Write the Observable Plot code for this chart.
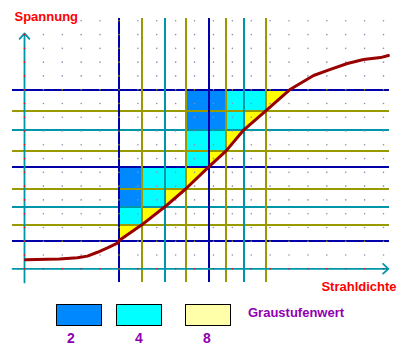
<!DOCTYPE html>
<html><head><meta charset="utf-8">
<script src="https://cdn.jsdelivr.net/npm/d3@7"></script>
<script src="https://cdn.jsdelivr.net/npm/@observablehq/plot@0.6"></script>
<style>
body{margin:0;background:#fff;width:412px;height:353px;overflow:hidden;font-family:"Liberation Sans",Arial,sans-serif;}
#legend{position:relative;width:412px;height:57px;}
.sw{position:absolute;top:8px;width:46px;height:22px;border:1px solid #000;box-sizing:border-box;}
.lab{position:absolute;font:bold 13px "Liberation Sans",Arial,sans-serif;color:#9000b0;line-height:14px;white-space:nowrap;}
.num{font-size:14px;}
</style></head><body>
<div id="chart"></div><div id="legend"></div>
<script>
// ---- data (grid units: x = Strahldichte, y = Spannung) ----
const colEdges   = [4.99, 6.21, 7.43, 8.54, 9.75, 10.67, 11.61, 12.77, 14.03]; // where the curve crosses each level
const levelLines = [2.03, 3.19, 4.50, 5.81, 7.40, 8.56, 10.09, 11.47, 12.99];  // quantisation levels (Spannung)
const levelDepth = [2, 8, 4, 8, 2, 8, 4, 8, 2];   // grey-level set each horizontal line belongs to
const vLineDepth = [2, 8, 4, 8, 2, 8, 4, 8];      // same for vertical lines (colEdges[0..7])

const cellCol   = [0, 0, 1, 0, 1, 2, 3, 3, 4, 3, 4, 5, 3, 4, 5, 6];
const cellRow   = [1, 2, 2, 3, 3, 3, 4, 5, 5, 6, 6, 6, 7, 7, 7, 7];
const cellLevel = [4, 2, 4, 2, 4, 4, 4, 4, 4, 2, 2, 4, 2, 2, 4, 4];
const triIndex  = [0, 1, 2, 3, 4, 5, 6, 7];

const curveX = [0.05, 1.85, 2.80, 3.33, 3.86, 4.39, 4.92, 4.99, 6.21, 7.43, 8.54, 9.75, 10.67, 11.61, 12.77, 14.03, 15.30, 16.19, 17.09, 17.94, 18.84, 19.26];
const curveY = [0.65, 0.71, 0.80, 0.92, 1.20, 1.52, 1.86, 2.03, 3.19, 4.50, 5.81, 7.40, 8.56, 10.09, 11.47, 12.99, 14.03, 14.47, 14.90, 15.19, 15.33, 15.48];

const dotCols = d3.range(0, 20);
const dotRows = d3.range(0, 19);

const legendLevels = [2, 4, 8];
const legendLabel = "Graustufenwert";
const yLabel = "Spannung";
const xLabel = "Strahldichte";

// ---- styles ----
const depthColor = {2: "#0000aa", 4: "#0096aa", 8: "#999900"};
const cellColor = {2: "#0088ff", 4: "#00ffff", 8: "#ffff00"};
const legendColor = {2: "#0088ff", 4: "#00ffff", 8: "#ffffaa"};
const axisColor = "#0096aa";

// ---- derived tables ----
const cells = cellCol.map((c, i) => ({c, r: cellRow[i], level: cellLevel[i]}));
const tris = triIndex.flatMap(i => [
  {i, x: colEdges[i],     y1: levelLines[i],     y2: levelLines[i + 1]},
  {i, x: colEdges[i + 1], y1: levelLines[i + 1], y2: levelLines[i + 1]}
]);
const hLines = levelLines.map((y, i) => ({y, depth: levelDepth[i]}));
const vLines = vLineDepth.map((depth, i) => ({x: colEdges[i], depth}));
const curve = curveX.map((x, i) => ({x, y: curveY[i]}));
const dots = dotRows.flatMap(r => dotCols.map(c => ({c, r})));
const dotColor = d => (d.c === 0 || d.r === 0) ? "#ff0000"
  : (d.r === 2 || d.r === 13 || d.c === 5) ? "#a0a000" : "#8c8cb4";

const chart = Plot.plot({
  width: 412, height: 296, margin: 0,
  x: {domain: [0, 19], range: [24, 383], axis: null},
  y: {domain: [0, 18], range: [268.3, 20.3], axis: null},
  color: {type: "identity"},
  style: {background: "#fff", overflow: "visible"},
  marks: [
    Plot.rect(cells, {
      x1: d => colEdges[d.c], x2: d => colEdges[d.c + 1],
      y1: d => levelLines[d.r], y2: d => levelLines[d.r + 1],
      fill: d => cellColor[d.level], shapeRendering: "crispEdges"
    }),
    Plot.areaY(tris, {x: "x", y1: "y1", y2: "y2", z: "i", fill: cellColor[8]}),
    Plot.ruleY(hLines, {y: "y", x1: -0.635, x2: 19.32, stroke: d => depthColor[d.depth], strokeWidth: 2, shapeRendering: "crispEdges"}),
    Plot.ruleX(vLines, {x: "x", y1: -0.99, y2: 18.16, stroke: d => depthColor[d.depth], strokeWidth: 2, shapeRendering: "crispEdges"}),
    Plot.arrow([{x1: 0, y1: -0.99, x2: 0, y2: 17.08}], {x1: "x1", y1: "y1", x2: "x2", y2: "y2", stroke: axisColor, strokeWidth: 1.8, headLength: 6, headAngle: 85}),
    Plot.arrow([{x1: -0.635, y1: 0, x2: 19.26, y2: 0}], {x1: "x1", y1: "y1", x2: "x2", y2: "y2", stroke: axisColor, strokeWidth: 1.8, headLength: 6, headAngle: 85}),
    Plot.dot(dots, {x: "c", y: "r", r: 0.8, fill: dotColor, stroke: null}),
    Plot.line(curve, {x: "x", y: "y", stroke: "#990000", strokeWidth: 3}),
    Plot.text([yLabel], {x: -0.53, y: 18.27, text: d => d, textAnchor: "start", fill: "#ff0000", fontSize: 13, fontWeight: "bold", fontFamily: "Liberation Sans, Arial, sans-serif"}),
    Plot.text([xLabel], {x: 19.69, y: -1.28, text: d => d, textAnchor: "end", fill: "#ff0000", fontSize: 13, fontWeight: "bold", fontFamily: "Liberation Sans, Arial, sans-serif"})
  ]
});
document.getElementById("chart").appendChild(chart);

// ---- legend ----
const legend = document.getElementById("legend");
const swLeft = [56, 116, 185];
const labLeft = [67, 135, 203];
legendLevels.forEach((lv, i) => {
  const sw = document.createElement("div");
  sw.className = "sw";
  sw.style.left = swLeft[i] + "px";
  sw.style.background = legendColor[lv];
  legend.appendChild(sw);
  const lab = document.createElement("div");
  lab.className = "lab num";
  lab.style.left = labLeft[i] + "px";
  lab.style.top = "35px";
  lab.textContent = lv;
  legend.appendChild(lab);
});
const gl = document.createElement("div");
gl.className = "lab";
gl.style.left = "248px";
gl.style.top = "10px";
gl.textContent = legendLabel;
legend.appendChild(gl);
</script>
</body></html>
